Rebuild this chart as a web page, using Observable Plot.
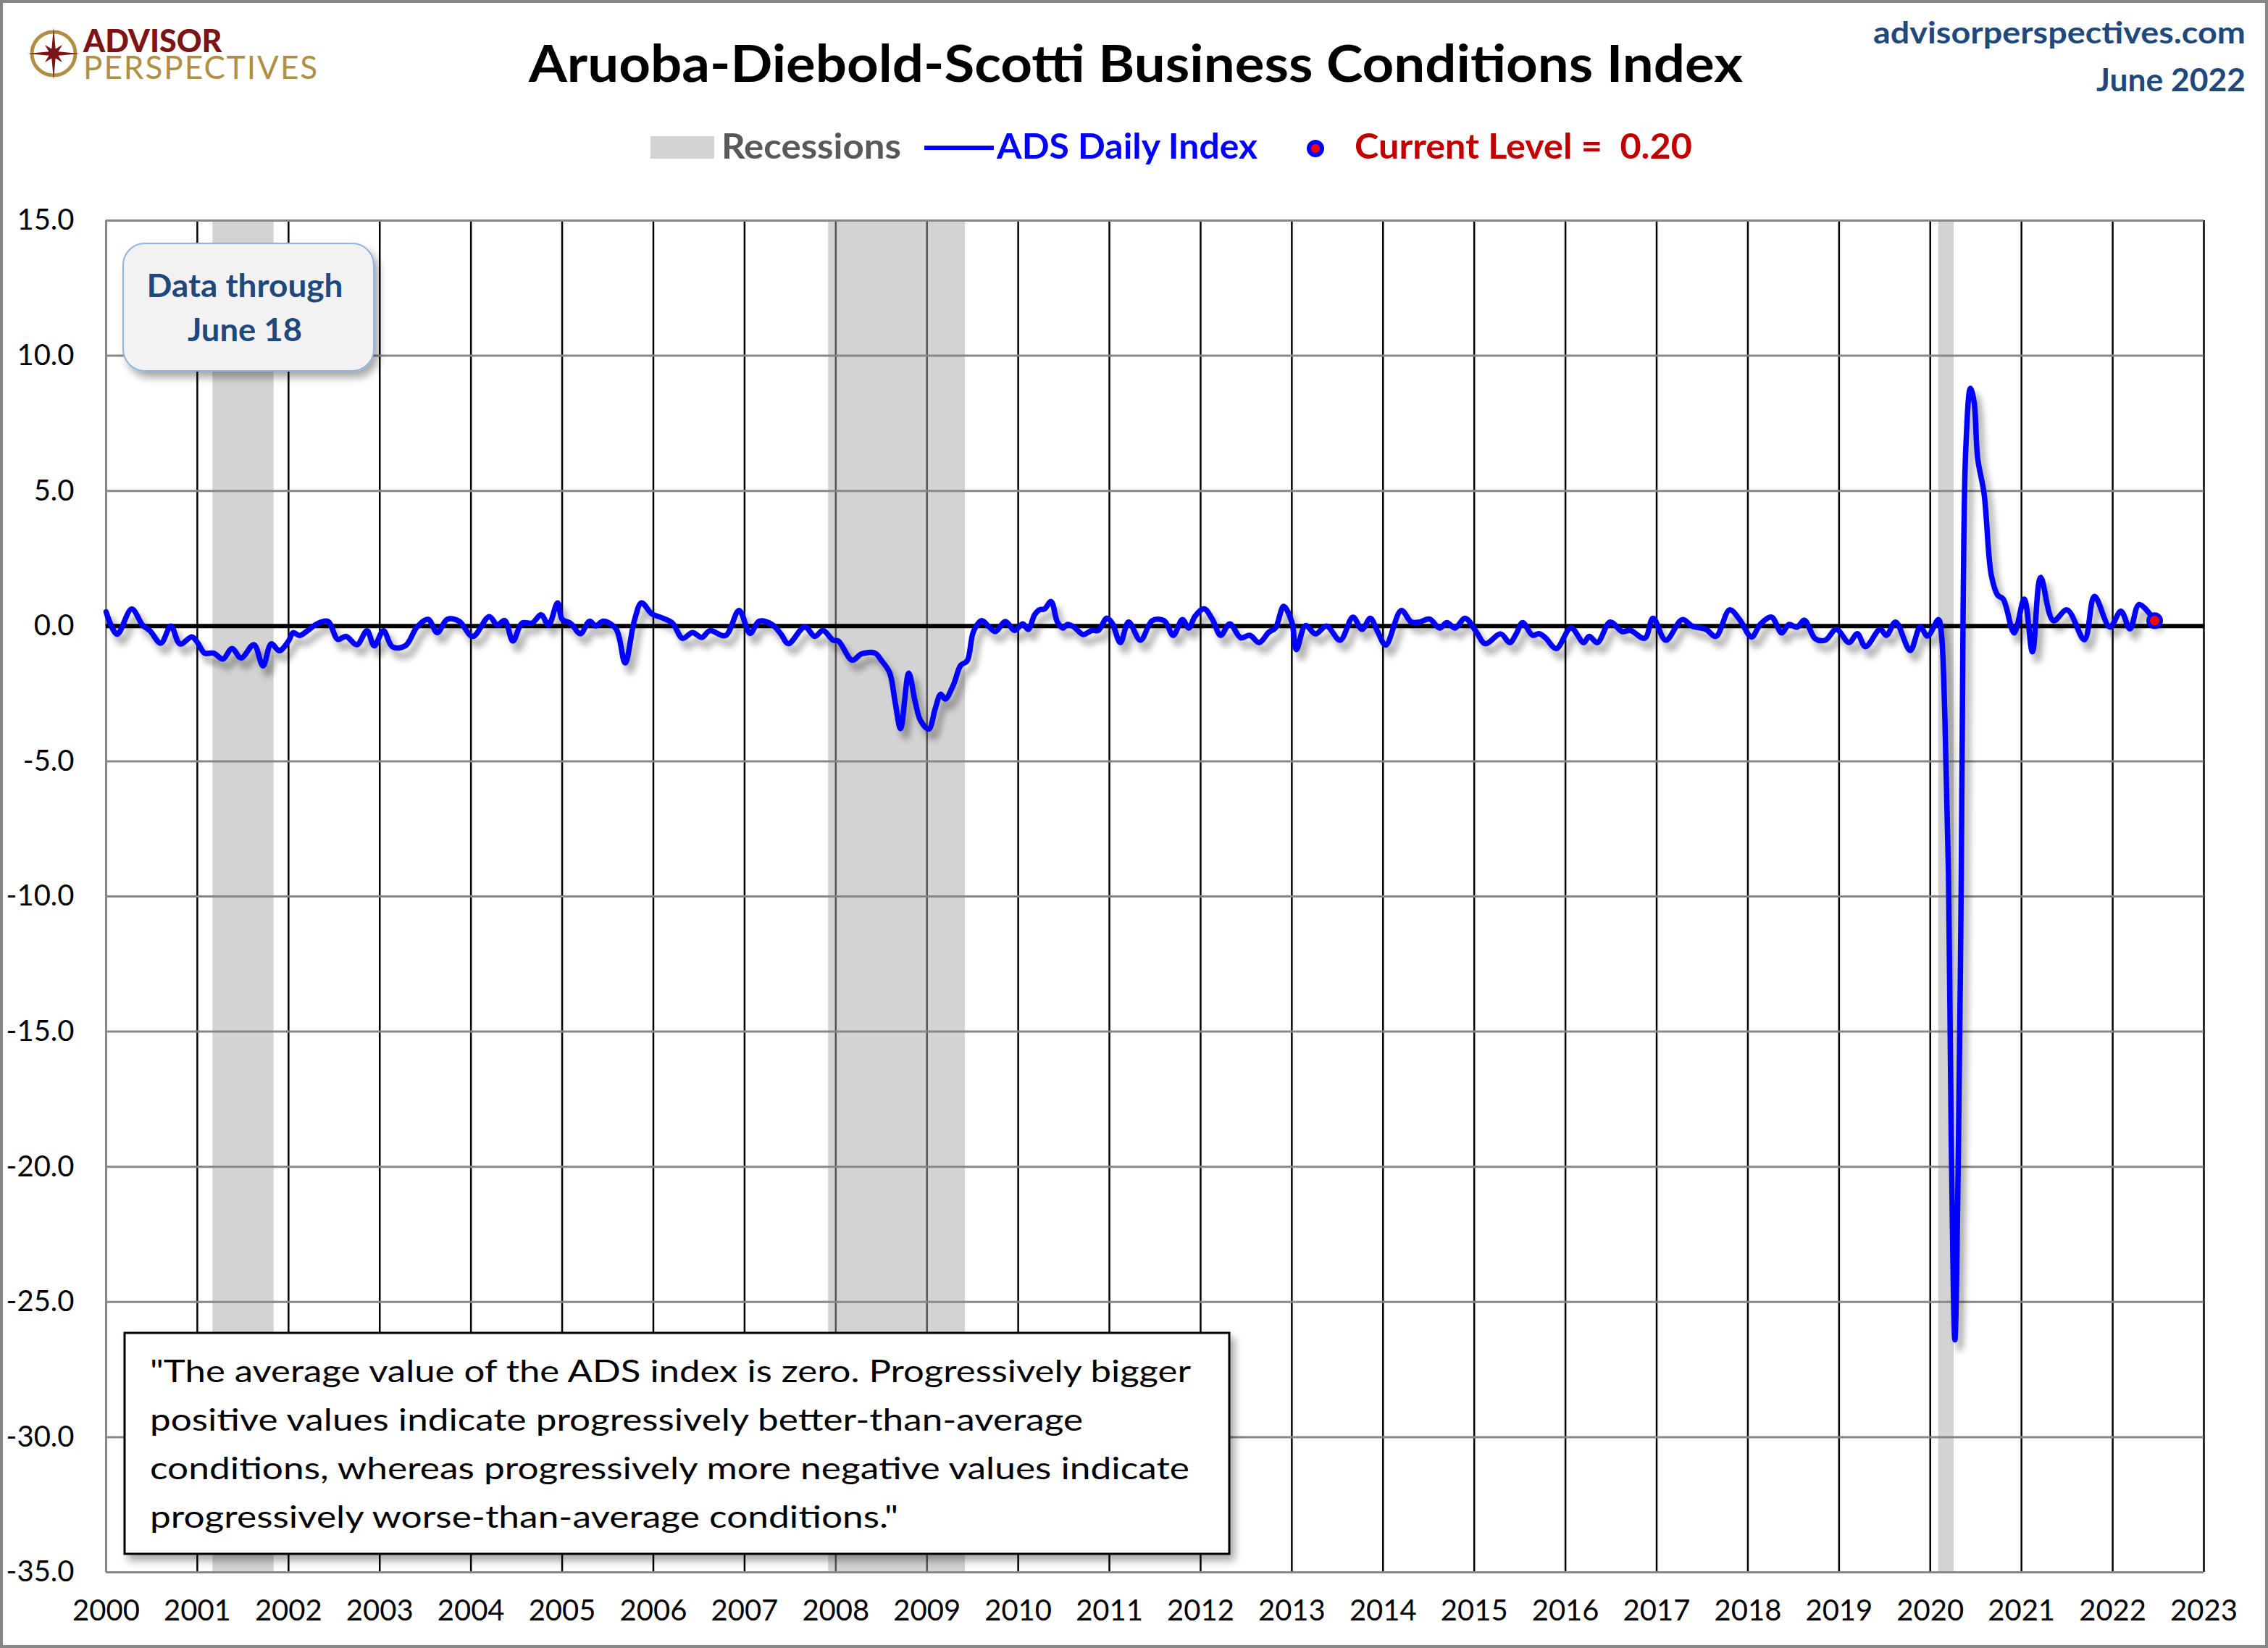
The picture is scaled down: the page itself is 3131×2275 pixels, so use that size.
<!DOCTYPE html>
<html><head><meta charset="utf-8">
<script src="https://cdn.jsdelivr.net/npm/d3@7"></script>
<script src="https://cdn.jsdelivr.net/npm/@observablehq/plot@0.6"></script>
<style>
body{margin:0;background:#fff;}
#wrap{position:relative;width:3131px;height:2275px;overflow:hidden;background:#fff;}
#frame{position:absolute;left:0;top:0;width:3131px;height:2275px;box-sizing:border-box;border:4px solid #868686;pointer-events:none;}
#wrap svg{position:absolute;left:0;top:0;}
</style></head><body>
<div id="wrap"><div id="frame"></div></div>
<script>
// ---- data (decimal year, ADS index value) ----
const t = [
2000.00,2000.12,2000.28,2000.40,2000.48,2000.60,2000.71,2000.81,2000.94,
2001.00,2001.08,2001.18,2001.28,2001.38,2001.48,2001.62,2001.72,2001.81,2001.90,
2002.00,2002.05,2002.12,2002.22,2002.31,2002.43,2002.54,2002.63,2002.75,2002.86,2002.94,
2003.04,2003.14,2003.28,2003.41,2003.53,2003.63,2003.74,2003.87,
2004.02,2004.20,2004.29,2004.37,2004.46,2004.56,2004.67,2004.77,2004.85,2004.95,
2005.00,2005.09,2005.20,2005.30,2005.37,2005.45,2005.59,2005.69,2005.79,2005.87,2005.98,
2006.10,2006.21,2006.32,2006.43,2006.53,2006.62,2006.79,2006.94,
2007.06,2007.16,2007.30,2007.40,2007.48,2007.66,2007.77,2007.86,2007.97,
2008.03,2008.18,2008.28,2008.43,2008.50,2008.59,2008.65,2008.71,2008.80,2008.87,2008.93,
2009.02,2009.09,2009.15,2009.20,2009.29,2009.37,2009.44,2009.51,2009.60,2009.68,2009.75,2009.86,2009.96,
2010.05,2010.11,2010.18,2010.23,2010.29,2010.36,2010.43,2010.49,2010.54,2010.61,2010.71,2010.81,2010.88,2010.97,
2011.03,2011.12,2011.21,2011.34,2011.47,2011.60,2011.70,2011.80,2011.87,2011.94,
2012.04,2012.13,2012.22,2012.32,2012.44,2012.54,2012.64,2012.75,2012.82,2012.91,
2013.00,2013.05,2013.15,2013.26,2013.38,2013.53,2013.67,2013.77,2013.86,2013.94,
2014.03,2014.20,2014.31,2014.40,2014.51,2014.62,2014.70,2014.79,2014.90,
2015.02,2015.12,2015.29,2015.39,2015.46,2015.53,2015.64,2015.71,2015.78,2015.90,
2016.06,2016.20,2016.26,2016.35,2016.49,2016.62,2016.71,2016.87,2016.96,
2017.10,2017.28,2017.39,2017.54,2017.65,2017.80,2017.91,
2018.04,2018.14,2018.26,2018.37,2018.45,2018.54,2018.62,2018.74,2018.85,2018.97,
2019.11,2019.20,2019.29,2019.45,2019.52,2019.62,2019.78,2019.89,2019.97,
2020.09,2020.12,2020.16,2020.20,2020.23,2020.27,2020.31,2020.34,2020.36,2020.39,2020.44,2020.48,2020.52,2020.59,2020.67,2020.74,2020.80,2020.92,
2021.03,2021.12,2021.21,2021.35,2021.50,2021.69,2021.80,2021.97,
2022.09,2022.19,2022.29,2022.46
];
const v = [
0.53,-0.30,0.63,0.04,-0.17,-0.63,0.00,-0.66,-0.40,
-0.60,-1.00,-1.00,-1.22,-0.83,-1.18,-0.69,-1.47,-0.66,-0.91,
-0.55,-0.24,-0.35,-0.14,0.08,0.18,-0.49,-0.38,-0.69,-0.17,-0.73,
-0.17,-0.77,-0.73,-0.03,0.25,-0.24,0.25,0.18,
-0.38,0.35,0.04,0.21,-0.55,0.11,0.11,0.42,0.04,0.86,
0.25,0.11,-0.28,0.18,0.01,0.18,-0.10,-1.36,0.18,0.86,0.46,
0.30,0.11,-0.45,-0.24,-0.42,-0.17,-0.35,0.58,
-0.27,0.18,0.06,-0.30,-0.65,-0.03,-0.38,-0.16,-0.52,
-0.56,-1.26,-1.03,-1.00,-1.27,-1.72,-2.79,-3.79,-1.74,-2.79,-3.50,
-3.81,-3.06,-2.52,-2.70,-2.17,-1.45,-1.29,-0.20,0.20,-0.03,-0.20,0.17,-0.16,
0.08,-0.12,0.42,0.60,0.64,0.91,0.15,-0.07,0.06,-0.03,-0.31,-0.16,-0.16,0.29,
0.11,-0.61,0.15,-0.52,0.20,0.20,-0.34,0.24,-0.07,0.37,
0.64,0.24,-0.34,0.08,-0.43,-0.34,-0.61,-0.22,-0.07,0.73,
0.15,-0.87,0.02,-0.29,0.00,-0.52,0.33,-0.12,0.29,-0.20,
-0.70,0.58,0.15,0.15,0.26,-0.07,0.13,-0.07,0.29,
-0.20,-0.65,-0.29,-0.61,-0.29,0.13,-0.34,-0.28,-0.43,-0.83,
-0.07,-0.61,-0.38,-0.61,0.15,-0.20,-0.16,-0.45,0.29,
-0.52,0.24,0.00,-0.12,-0.38,0.60,0.24,
-0.40,0.08,0.33,-0.25,0.06,-0.04,0.22,-0.47,-0.52,-0.12,
-0.61,-0.28,-0.76,-0.12,-0.34,0.15,-0.90,-0.03,-0.37,
0.24,-0.20,-3.35,-9.2,-18.9,-26.4,-18.9,-9.2,0.5,6.6,8.8,8.3,6.2,4.9,1.87,1.14,1.0,-0.25,
1.0,-0.95,1.8,0.2,0.6,-0.5,1.1,-0.03,
0.55,-0.1,0.8,0.20
];
const recStart = [2001.17, 2007.92, 2020.09];
const recEnd   = [2001.84, 2009.42, 2020.26];
const xTicks = d3.range(2000, 2024);
const yTicks = d3.range(-35, 16, 5);
const currentLevel = "0.20";
const quoteLines = [
  "\"The average value of the ADS index is zero. Progressively bigger",
  "positive values indicate progressively better-than-average",
  "conditions, whereas progressively more negative values indicate",
  "progressively worse-than-average conditions.\""
];

const data = t.map((d, i) => ({t: d, v: v[i]}));
const rec = recStart.map((s, i) => ({s, e: recEnd[i]}));
const last = data[data.length - 1];
const FONT = "Lato, 'Open Sans', sans-serif";

const svgEl = Plot.plot({
  width: 3131, height: 2275,
  marginTop: 304, marginLeft: 146, marginRight: 89, marginBottom: 105,
  style: {fontFamily: FONT, fontSize: "40px", color: "#000", background: "transparent", overflow: "visible"},
  x: {domain: [2000, 2023], label: null},
  y: {domain: [-35, 15], label: null},
  marks: [
    Plot.ruleX(xTicks.filter(d => d > 2000), {stroke: "#000", strokeWidth: 2.5}),
    Plot.rect(rec, {x1: "s", x2: "e", fill: "#a8a8a8", fillOpacity: 0.5}),
    Plot.ruleY(yTicks.filter(d => d !== 0), {stroke: "#878787", strokeWidth: 3}),
    Plot.ruleX([2000], {stroke: "#878787", strokeWidth: 3}),
    Plot.ruleY([0], {stroke: "#000", strokeWidth: 6}),
    Plot.line(data, {x: "t", y: "v", curve: "catmull-rom", stroke: "#000", strokeOpacity: 0.3, strokeWidth: 9, dx: 7, dy: 11}),
    Plot.line(data, {x: "t", y: "v", curve: "catmull-rom", stroke: "#0000ff", strokeWidth: 7.5}),
    Plot.dot([last], {x: "t", y: "v", r: 9, fill: "#ff0000", stroke: "#0000ff", strokeWidth: 5}),
    Plot.axisX({ticks: xTicks, tickFormat: d => String(d), tickSize: 0, tickPadding: 38, fontSize: 40, label: null}),
    Plot.axisY({ticks: yTicks, tickFormat: d => d.toFixed(1), tickSize: 0, tickPadding: 44, fontSize: 40, label: null})
  ]
});
const wrap = document.getElementById("wrap");
wrap.insertBefore(svgEl, document.getElementById("frame"));

const s = d3.select(svgEl);
const defs = s.insert("defs", ":first-child");
defs.append("filter").attr("id", "blurSh").attr("x", "-5%").attr("y", "-5%").attr("width", "110%").attr("height", "110%")
  .append("feGaussianBlur").attr("stdDeviation", 4);
const ds = defs.append("filter").attr("id", "boxSh").attr("x", "-20%").attr("y", "-20%").attr("width", "140%").attr("height", "140%");
ds.append("feDropShadow").attr("dx", 6).attr("dy", 8).attr("stdDeviation", 6).attr("flood-color", "#000").attr("flood-opacity", 0.35);
s.selectAll('g[aria-label="line"]').filter((d, i) => i === 0).attr("filter", "url(#blurSh)");

const ov = s.append("g").attr("font-family", FONT);
function txt(x, y, str, o = {}) {
  const el = ov.append("text").attr("x", x).attr("y", y).text(str)
    .attr("font-size", o.size || 40).attr("font-weight", o.weight || "normal")
    .attr("fill", o.fill || "#000").attr("text-anchor", o.anchor || "start");
  if (o.width) {
    const w = el.node().getComputedTextLength();
    if (w > 0) el.attr("textLength", o.width).attr("lengthAdjust", "spacingAndGlyphs");
  }
  return el;
}

// logo (icon + two-line wordmark as one text element)
const lg = ov.append("g").attr("transform", "translate(74,74)");
lg.append("circle").attr("r", 30).attr("fill", "none").attr("stroke", "#b08f45").attr("stroke-width", 5);
const star = d3.range(16).map(i => {
  const a = i * Math.PI / 8 - Math.PI / 2;
  const r = i % 4 === 0 ? 36 : (i % 2 === 0 ? 17 : 7);
  return [r * Math.cos(a), r * Math.sin(a)];
});
lg.append("polygon").attr("points", star.map(p => p.join(",")).join(" ")).attr("fill", "#7a1416");
const logoText = ov.append("text").attr("text-anchor", "start");
logoText.append("tspan").attr("x", 115).attr("y", 72).attr("font-size", 43).attr("font-weight", 900)
  .attr("fill", "#7a1416").text("ADVISOR");
logoText.append("tspan").attr("x", 115).attr("y", 109).attr("font-size", 44).attr("font-weight", 400)
  .attr("letter-spacing", 2).attr("fill", "#b08f45").text("PERSPECTIVES");

// title & source
txt(1568, 113, "Aruoba-Diebold-Scotti Business Conditions Index", {size: 70, weight: "bold", fill: "#000", anchor: "middle", width: 1676});
txt(3100, 60, "advisorperspectives.com", {size: 42, weight: "bold", fill: "#1f497d", anchor: "end", width: 514});
txt(3100, 126, "June 2022", {size: 44, weight: "bold", fill: "#1f497d", anchor: "end", width: 206});

// legend
ov.append("rect").attr("x", 898).attr("y", 188).attr("width", 88).attr("height", 31).attr("fill", "#d3d3d3");
txt(996, 219, "Recessions", {size: 48, weight: "bold", fill: "#595959", width: 248});
ov.append("line").attr("x1", 1276).attr("x2", 1372).attr("y1", 204).attr("y2", 204).attr("stroke", "#0000ff").attr("stroke-width", 6);
txt(1376, 219, "ADS Daily Index", {size: 48, weight: "bold", fill: "#0000ff", width: 360});
ov.append("circle").attr("cx", 1816).attr("cy", 205).attr("r", 9).attr("fill", "#ff0000").attr("stroke", "#0000ff").attr("stroke-width", 6);
txt(1870, 219, "Current Level =  " + currentLevel, {size: 48, weight: "bold", fill: "#c00000", width: 466});

// data-through box
ov.append("rect").attr("x", 170).attr("y", 336).attr("width", 346).attr("height", 176).attr("rx", 30)
  .attr("fill", "#f2f2f2").attr("stroke", "#8eb4e3").attr("stroke-width", 2).attr("filter", "url(#boxSh)");
txt(338, 410, "Data through", {size: 44, weight: "bold", fill: "#1f497d", anchor: "middle", width: 271});
txt(338, 471, "June 18", {size: 44, weight: "bold", fill: "#1f497d", anchor: "middle", width: 158});

// quote box
ov.append("rect").attr("x", 172).attr("y", 1840).attr("width", 1525).attr("height", 305)
  .attr("fill", "#fff").attr("stroke", "#000").attr("stroke-width", 3).attr("filter", "url(#boxSh)");
const qw = [1437, 1288, 1435, 1033];
quoteLines.forEach((q, i) => txt(207, 1908 + i * 67, q, {size: 43, fill: "#000", width: qw[i]}));
</script>
</body></html>
